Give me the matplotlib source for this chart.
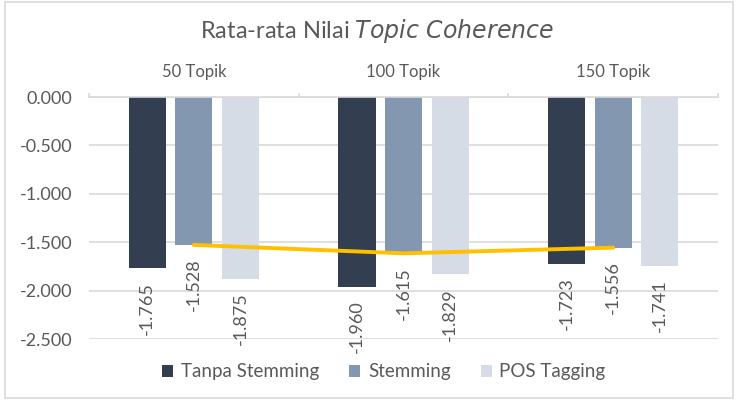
import numpy as np
import matplotlib.pyplot as plt
from matplotlib.patches import Rectangle

# --------- Données ---------
categories = ["50 Topik", "100 Topik", "150 Topik"]
series_names = ["Tanpa Stemming", "Stemming", "POS Tagging"]
tanpa_stemming = [-1.765, -1.960, -1.723]
stemming = [-1.528, -1.615, -1.556]
pos_tagging = [-1.875, -1.829, -1.741]
y_ticks = [0.0, -0.5, -1.0, -1.5, -2.0, -2.5]

colors = ["#333F50", "#8497B0", "#D6DCE5"]
text_color = "#595959"
grid_color = "#D9D9D9"

plt.rcParams['font.family'] = ['Lato', 'DejaVu Sans']

fig = plt.figure(figsize=(7.38, 4.0), dpi=100)
ax = fig.add_axes([0.1206, 0.1525, 0.8524, 0.605])

x = np.arange(len(categories))
width = 0.177
offset = 0.222
all_series = [tanpa_stemming, stemming, pos_tagging]

for k, (vals, name, col) in enumerate(zip(all_series, series_names, colors)):
    pos = x + (k - 1) * offset
    ax.bar(pos, vals, width=width, color=col, label=name, zorder=2)
    for xi, v in zip(pos, vals):
        ax.annotate(f"{v:.3f}", (xi, v), xytext=(0, -10), textcoords="offset points",
                    rotation=90, ha="center", va="top", fontsize=13,
                    color=text_color, zorder=3)

# ligne jaune sur la série Stemming
ax.plot(x, stemming, color="#FFC000", linewidth=2.8, solid_capstyle="round", zorder=4)

ax.set_xlim(-0.5, 2.5)
ax.set_ylim(-2.5, 0.0)
ax.set_yticks(y_ticks)
ax.set_yticklabels([f"{t:.3f}" for t in y_ticks])
ax.yaxis.grid(True, color=grid_color, linewidth=1.2, zorder=0)
ax.tick_params(axis="y", length=0, pad=12, labelsize=13, labelcolor=text_color)

ax.xaxis.tick_top()
ax.set_xticks(x)
ax.set_xticklabels(categories)
ax.tick_params(axis="x", which="major", length=0, pad=12, labelsize=12,
               labelcolor=text_color)
ax.set_xticks([-0.5, 0.5, 1.5, 2.5], minor=True)
ax.tick_params(axis="x", which="minor", length=3, color=grid_color, width=1.2)

for s in ax.spines.values():
    s.set_visible(False)
ax.spines["top"].set_visible(True)
ax.spines["top"].set_color(grid_color)
ax.spines["top"].set_linewidth(1.2)

fig.text(0.511, 0.922, "Rata-rata Nilai $\\it{Topic\\ Coherence}$", ha="center", va="center",
         fontsize=17, color=text_color)

ax.legend(loc="center", bbox_to_anchor=(0.52, 1 - 372 / 400), bbox_transform=fig.transFigure,
          ncol=3, frameon=False, fontsize=13.5, handlelength=0.6, handleheight=0.6,
          handletextpad=0.4, columnspacing=1.6, labelcolor=text_color)

# cadre du graphique
fig.patches.append(Rectangle((0.007, 0.005), 0.986, 0.99, transform=fig.transFigure,
                             fill=False, edgecolor=grid_color, linewidth=1.2))

fig.savefig("out.png", dpi=100)
